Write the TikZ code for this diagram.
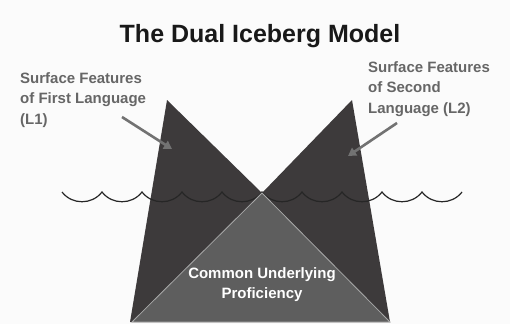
\documentclass[tikz,border=0pt]{standalone}
\usepackage{fontspec}
\setmainfont{Liberation Sans}
\usetikzlibrary{arrows.meta}

\definecolor{paper}{HTML}{FBFBFB}
\definecolor{berg}{HTML}{3D3A3B}
\definecolor{core}{HTML}{5E5E5E}
\definecolor{coreline}{HTML}{A8A8A8}
\definecolor{labelgray}{HTML}{666666}
\definecolor{arrowgray}{HTML}{727272}

\begin{document}
\begin{tikzpicture}[x = 1pt, y = -1pt,
    title/.style = {font = \bfseries\fontsize{25}{30}\selectfont, text = black!90},
    side/.style = {font = \bfseries\fontsize{15}{20.5}\selectfont, text = labelgray, align = left, anchor = north west, inner sep = 0pt},
    base/.style = {font = \bfseries\fontsize{15}{20}\selectfont, text = white, align = center, inner sep = 0pt},
    pointer/.style = {draw = arrowgray, line width = 2.6pt, -{Triangle[length = 8pt, width = 9pt]}},
    wave/.style = {draw = black!85, line width = 1.2pt}]
    \fill[paper] (0, 0) rectangle (510, 324);

    % iceberg outline
    \coordinate (peakL) at (167, 100);
    \coordinate (notch) at (262, 193);
    \coordinate (peakR) at (352, 100);
    \coordinate (footR) at (390, 322);
    \coordinate (footL) at (130, 322);
    \fill[berg] (peakL) -- (notch) -- (peakR) -- (footR) -- (footL) -- cycle;

    % water line
    \coordinate (sea) at (62, 192);
    \draw[wave] (sea) foreach \i in {1, ..., 10} {.. controls +(10, 13) and +(-10, 13) .. ++(40, 0)};

    % shared part
    \coordinate (coreL) at (132, 322);
    \coordinate (coreR) at (390, 322);
    \filldraw[fill = core, draw = coreline, line width = 0.8pt] (notch) -- (coreR) -- (coreL) -- cycle;

    \node[title](head) at (260, 36) {The Dual Iceberg Model};
    \node[side](l1) at (20, 72) {Surface Features\\of First Language\\(L1)};
    \node[side](l2) at (368, 61) {Surface Features\\of Second\\Language (L2)};
    \node[base](cup) at (262, 285) {Common Underlying\\Proficiency};

    \coordinate (fromL) at (122, 117);
    \coordinate (toL) at (172, 149);
    \coordinate (fromR) at (397, 123);
    \coordinate (toR) at (348, 156);
    \draw[pointer](fromL) -- (toL);
    \draw[pointer](fromR) -- (toR);
\end{tikzpicture}
\end{document}
